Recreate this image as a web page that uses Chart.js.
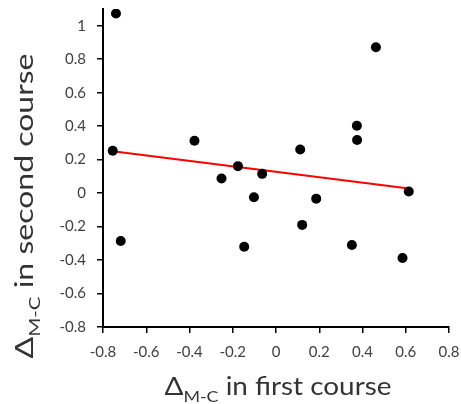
<!DOCTYPE html>
<html>
<head>
  <meta charset="utf-8">
  <title>Delta M-C scatter</title>
  <script src="https://cdn.jsdelivr.net/npm/chart.js@4.4.0/dist/chart.umd.min.js"></script>
  <style>
    body { margin: 0; background: #fff; }
    #wrap { width: 461px; height: 404px; position: relative; }
  </style>
</head>
<body>
  <div id="wrap"><canvas id="myChart"></canvas></div>
  <script>
    // values
    var xFirst  = [-0.74, -0.755, -0.377, -0.252, -0.176, -0.064, -0.102, 0.112, 0.186, 0.374, 0.375, 0.462, 0.614, -0.718, -0.147, 0.121, 0.351, 0.585];
    var ySecond = [1.073, 0.253, 0.313, 0.087, 0.161, 0.115, -0.025, 0.261, -0.033, 0.402, 0.317, 0.871, 0.01, -0.286, -0.32, -0.19, -0.31, -0.388];
    var trendX = [-0.755, 0.614];
    var trendY = [0.25, 0.028];
    var xTicks = [-0.8, -0.6, -0.4, -0.2, 0, 0.2, 0.4, 0.6, 0.8];
    var yTicks = [-0.8, -0.6, -0.4, -0.2, 0, 0.2, 0.4, 0.6, 0.8, 1];

    var puntos = xFirst.map(function(x, i) { return { x: x, y: ySecond[i] }; });
    var linea = trendX.map(function(x, i) { return { x: x, y: trendY[i] }; });

    var tickFont = { family: 'Lato', size: 15 };
    var tickColor = '#404040';

    // draws "Δ" + subscript "M-C" + rest, stretched to a given width
    function tituloSub(ctx, rest, size, target) {
      var big = size + 'px Lato';
      var small = Math.round(size * 0.62) + 'px Lato';
      ctx.font = big;
      var w1 = ctx.measureText('\u0394').width;
      var w3 = ctx.measureText(rest).width;
      ctx.font = small;
      var w2 = ctx.measureText('M-C').width;
      var total = w1 + w2 + w3;
      var s = target ? target / total : 1;
      ctx.scale(s, 1);
      var x = -total / 2;
      ctx.textAlign = 'left';
      ctx.textBaseline = 'alphabetic';
      ctx.font = big;
      ctx.fillText('\u0394', x, 0);
      ctx.font = small;
      ctx.fillText('M-C', x + w1, size * 0.28);
      ctx.font = big;
      ctx.fillText(rest, x + w1 + w2, 0);
    }

    var titulos = {
      id: 'titulos',
      afterDraw: function(chart) {
        var ctx = chart.ctx;
        ctx.save();
        ctx.fillStyle = '#333333';
        ctx.translate(278, 395);
        tituloSub(ctx, ' in first course', 25, 227);
        ctx.restore();

        ctx.save();
        ctx.fillStyle = '#333333';
        ctx.translate(33, 206);
        ctx.rotate(-Math.PI / 2);
        tituloSub(ctx, ' in second course', 25, 305);
        ctx.restore();
      }
    };

    var ctx = document.getElementById('myChart').getContext('2d');
    var myChart = new Chart(ctx, {
      type: 'scatter',
      data: {
        datasets: [{
          data: puntos,
          backgroundColor: '#000000',
          borderWidth: 0,
          pointRadius: 5,
          pointHoverRadius: 5
        }, {
          data: linea,
          showLine: true,
          borderColor: '#ff0000',
          borderWidth: 2,
          pointRadius: 0,
          fill: false
        }]
      },
      options: {
        responsive: true,
        maintainAspectRatio: false,
        animation: false,
        layout: { padding: { top: 9, right: 12, left: 0, bottom: 0 } },
        plugins: { legend: { display: false }, tooltip: { enabled: false } },
        scales: {
          x: {
            type: 'linear',
            min: -0.8,
            max: 0.8,
            afterBuildTicks: function(scale) {
              scale.ticks = xTicks.map(function(v) { return { value: v }; });
            },
            afterFit: function(scale) {
              scale.height = 77;
              scale.paddingLeft = 0;
              scale.paddingRight = 0;
            },
            ticks: {
              font: tickFont,
              color: tickColor,
              padding: 10,
              maxRotation: 0,
              callback: function(v) { return String(v); }
            },
            grid: { drawOnChartArea: false, drawTicks: true, tickLength: 6, color: '#000', lineWidth: 1.5 },
            border: { display: true, color: '#000', width: 2 }
          },
          y: {
            type: 'linear',
            min: -0.8,
            max: 1.1,
            afterBuildTicks: function(scale) {
              scale.ticks = yTicks.map(function(v) { return { value: v }; });
            },
            afterFit: function(scale) {
              scale.width = 103;
              scale.paddingTop = 0;
              scale.paddingBottom = 0;
            },
            ticks: {
              font: tickFont,
              color: tickColor,
              padding: 11,
              callback: function(v) { return String(v); }
            },
            grid: { drawOnChartArea: false, drawTicks: true, tickLength: 6, color: '#000', lineWidth: 1.5 },
            border: { display: true, color: '#000', width: 2 }
          }
        }
      },
      plugins: [titulos]
    });
  </script>
</body>
</html>
